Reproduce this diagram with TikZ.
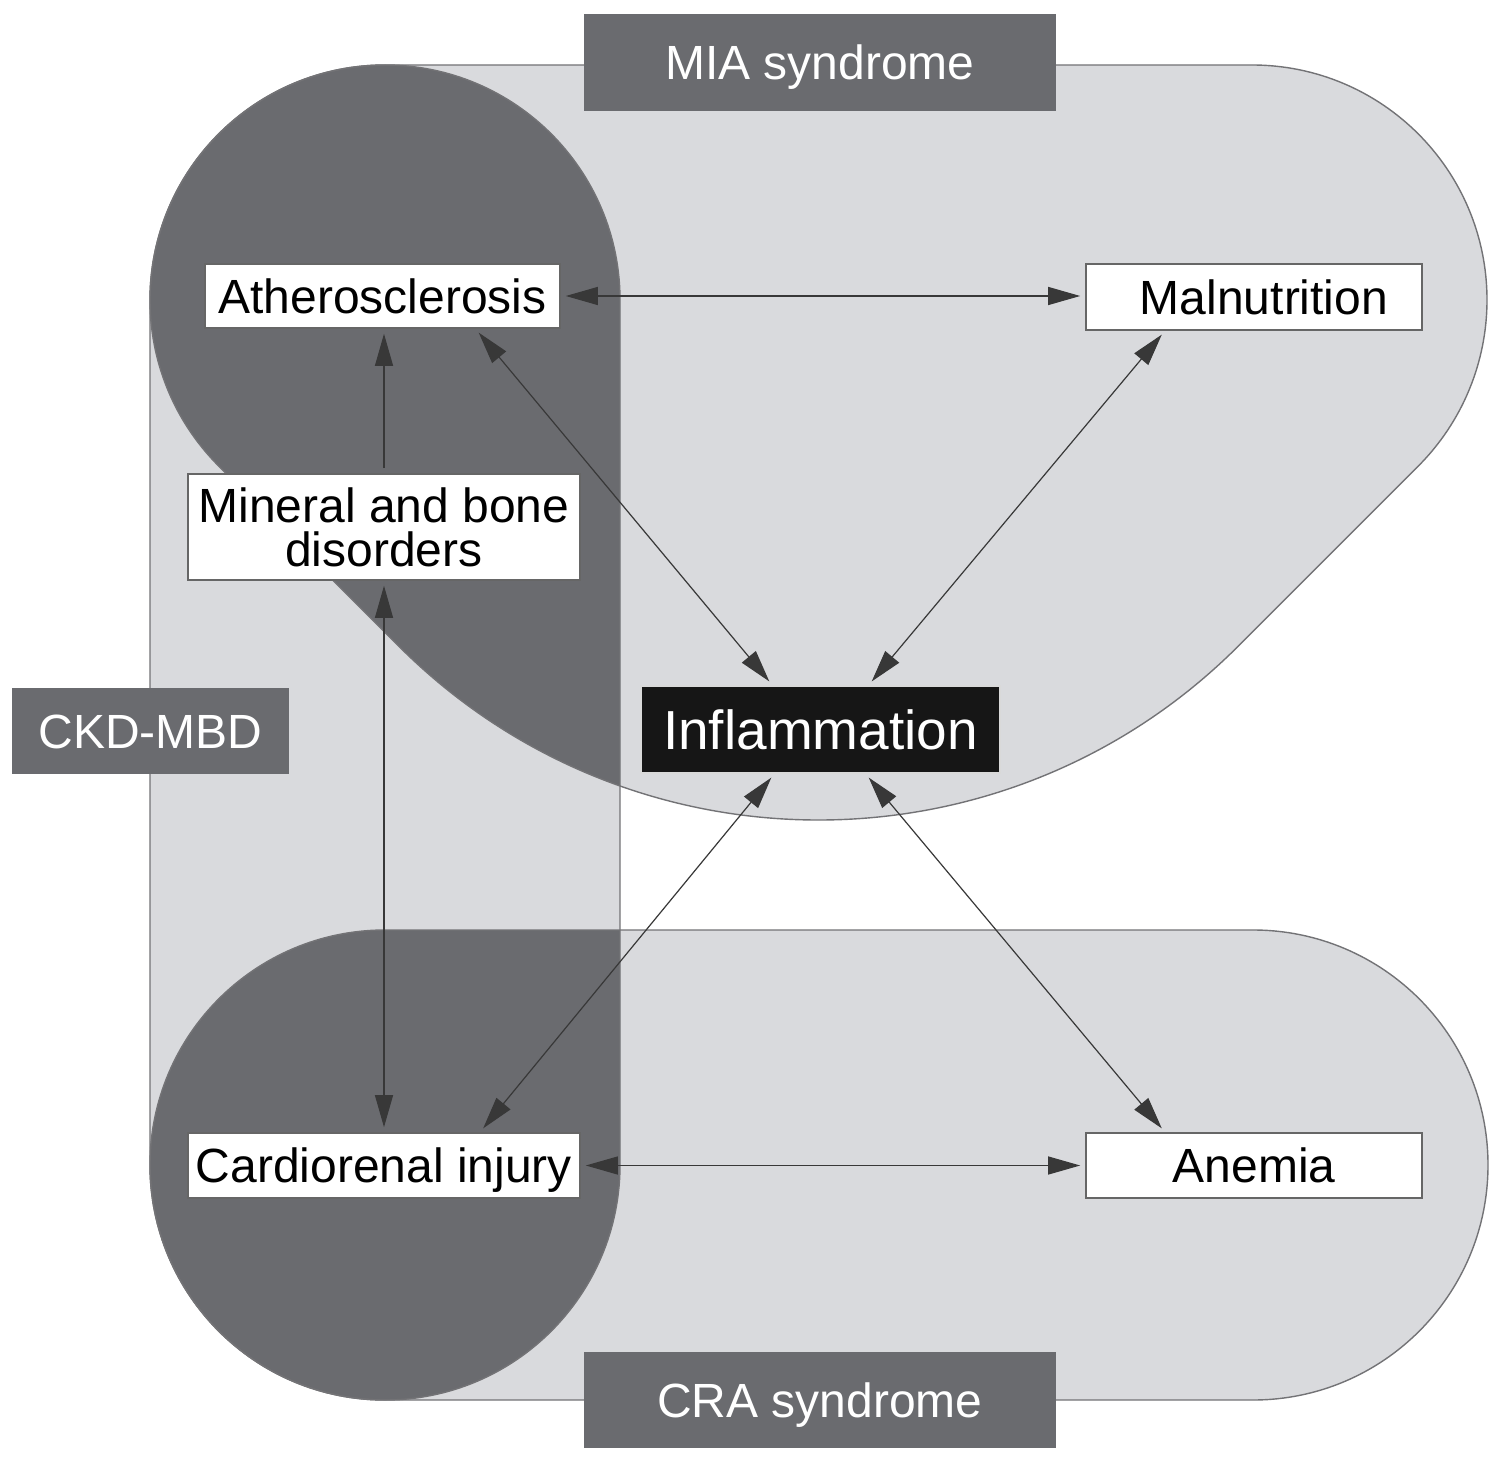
\documentclass[tikz,border=0pt]{standalone}
\usepackage{fontspec}
\setmainfont{Liberation Sans}
\usetikzlibrary{arrows.meta}
\definecolor{lightreg}{RGB}{217,218,221}
\definecolor{darkreg}{RGB}{106,107,111}
\definecolor{edgegray}{RGB}{115,115,118}
\definecolor{inkblack}{RGB}{22,22,22}
\begin{document}
\begin{tikzpicture}[x=1pt,y=1pt,
  >={Triangle[length=32pt,width=18pt]},
  regionline/.style={draw=edgegray, line width=1.4pt},
  whitebox/.style={draw=black!60, line width=1.6pt, fill=white, inner sep=0pt,
    font=\fontsize{48}{44}\selectfont, align=center},
  oneline/.style={text height=34.4pt, text depth=0pt},
  labelbox/.style={fill=darkreg, draw=none, text=white, inner sep=0pt,
    font=\fontsize{48}{42}\selectfont, text height=34.4pt, text depth=0pt},
  inflbox/.style={fill=inkblack, draw=white!85!black, line width=1.5pt, text=white,
    inner sep=0pt, font=\fontsize{55}{60}\selectfont, text height=39.4pt, text depth=0pt},
  link/.style={draw=black!78, line width=1.2pt, shorten <=5pt, shorten >=5pt}
]
\useasboundingbox (0,0) rectangle (1500,-1463);
\fill[white] (0,0) rectangle (1500,-1463);

% light regions
\fill[lightreg] (385,-65) -- (1252,-65) arc[start angle=90,end angle=-45,radius=235pt]
  -- (1238.24,-646.14) arc[start angle=-45,end angle=-135,radius=593.6pt]
  -- (218.83,-466.17) arc[start angle=225,end angle=90,radius=235pt] -- cycle;
\fill[lightreg] (150,-300) arc[start angle=180,end angle=0,radius=235pt]
  -- (620,-1165) arc[start angle=0,end angle=-180,radius=235pt] -- cycle;
\fill[lightreg] (385,-930) -- (1253,-930) arc[start angle=90,end angle=-90,radius=235pt]
  -- (385,-1400) arc[start angle=270,end angle=90,radius=235pt] -- cycle;

% dark overlaps
\begin{scope}
  \clip (150,-300) arc[start angle=180,end angle=0,radius=235pt]
    -- (620,-1165) arc[start angle=0,end angle=-180,radius=235pt] -- cycle;
  \fill[darkreg] (385,-65) -- (1252,-65) arc[start angle=90,end angle=-45,radius=235pt]
    -- (1238.24,-646.14) arc[start angle=-45,end angle=-135,radius=593.6pt]
    -- (218.83,-466.17) arc[start angle=225,end angle=90,radius=235pt] -- cycle;
  \fill[darkreg] (385,-930) -- (1253,-930) arc[start angle=90,end angle=-90,radius=235pt]
    -- (385,-1400) arc[start angle=270,end angle=90,radius=235pt] -- cycle;
\end{scope}

% outlines
\draw[regionline] (385,-65) -- (1252,-65) arc[start angle=90,end angle=-45,radius=235pt]
  -- (1238.24,-646.14) arc[start angle=-45,end angle=-135,radius=593.6pt]
  -- (218.83,-466.17) arc[start angle=225,end angle=90,radius=235pt] -- cycle;
\draw[regionline] (150,-300) arc[start angle=180,end angle=0,radius=235pt]
  -- (620,-1165) arc[start angle=0,end angle=-180,radius=235pt] -- cycle;
\draw[regionline] (385,-930) -- (1253,-930) arc[start angle=90,end angle=-90,radius=235pt]
  -- (385,-1400) arc[start angle=270,end angle=90,radius=235pt] -- cycle;

% nodes
\node[whitebox,oneline,minimum width=355pt,minimum height=64pt] (ath) at (382.5,-296) {Atherosclerosis};
\node[whitebox,oneline,minimum width=336pt,minimum height=66pt] (mal) at (1254,-297) {\hspace*{20pt}Malnutrition};
\node[whitebox,minimum width=392pt,minimum height=106pt] (mbd) at (384,-527) {Mineral and bone\\disorders};
\node[whitebox,oneline,minimum width=392pt,minimum height=65pt] (card) at (384,-1165.5) {Cardiorenal injury};
\node[whitebox,oneline,minimum width=336pt,minimum height=65pt] (anem) at (1254,-1165.5) {Anemia};
\node[inflbox,minimum width=359pt,minimum height=87pt] (infl) at (820.5,-729.5) {Inflammation};
\node[labelbox,minimum width=472pt,minimum height=97pt] (mia) at (820,-62.5) {MIA syndrome};
\node[labelbox,minimum width=277pt,minimum height=86pt] (ckd) at (150.5,-731) {CKD-MBD};
\node[labelbox,minimum width=472pt,minimum height=96pt] (cra) at (820,-1400) {CRA syndrome};

% connectors
\draw[link,<->] (ath.east) -- (ath.east -| mal.west);
\draw[link,<->] (card.east) -- (card.east -| anem.west);
\draw[link,<->] ([xshift=93pt]ath.south) -- ([xshift=-48pt]infl.north);
\draw[link,<->] ([xshift=-89pt]mal.south) -- ([xshift=48pt]infl.north);
\draw[link,<->] ([xshift=-46pt]infl.south) -- ([xshift=96pt]card.north);
\draw[link,<->] ([xshift=45pt]infl.south) -- ([xshift=-89pt]anem.north);
\draw[link,->] (mbd.north) -- (mbd.north |- ath.south);
\draw[link,<->] (mbd.south) -- (mbd.south |- card.north);
\end{tikzpicture}
\end{document}
